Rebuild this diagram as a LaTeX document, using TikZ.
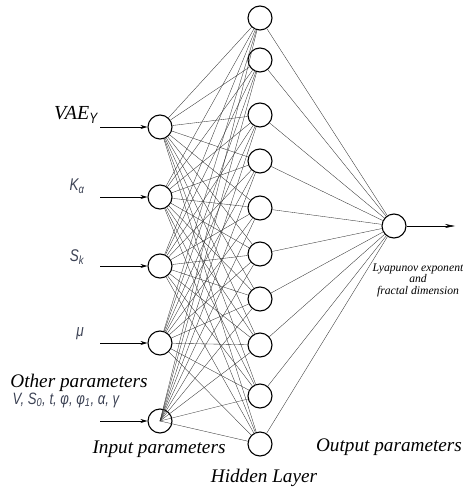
\documentclass[tikz,border=0pt]{standalone}
\usepackage{fontspec}
\setmainfont{Liberation Serif}
\setsansfont{Liberation Sans}
\newfontfamily\isofont[FakeStretch=0.8]{Liberation Sans}
\usetikzlibrary{arrows.meta,calc}
\definecolor{varcol}{RGB}{60,66,84}
\begin{document}
\begin{tikzpicture}[x=1bp,y=-1bp,
  neuron/.style={circle,draw=black,line width=1.1pt,minimum size=24bp,inner sep=0pt},
  link/.style={draw=black!80,line width=0.35pt},
  inarrow/.style={draw=black,line width=0.6pt,-{Stealth[length=7bp,width=4bp]}},
  lab/.style={font=\fontsize{19.3}{21}\selectfont\itshape},
  var/.style={font=\fontsize{17}{19}\selectfont\isofont\itshape,text=varcol}]
\useasboundingbox (0,0) rectangle (463,490);
% nodes
\foreach \n/\y in {1/18,2/60,3/115,4/161,5/208,6/254,7/299,8/345,9/396,10/444}
  \node[neuron] (h\n) at (260,\y) {};
\foreach \n/\y in {1/127,2/197,3/266,4/343,5/421}
  \node[neuron] (i\n) at (160,\y) {};
\node[neuron] (o) at (394,226) {};
% links
\foreach \i in {1,2,3,4}
  \foreach \h in {1,...,10}
    \draw[link] (i\i) -- (h\h);
\foreach \h in {1,...,10}
  \draw[link] (i5.center) -- (h\h);
\foreach \h in {1,...,10}
  \draw[link] (h\h) -- (o);
% input arrows
\foreach \n in {1,...,5}{
  \coordinate (s\n) at ($(i\n.center)+(-60,0)$);
  \draw[inarrow] (s\n) -- (i\n.west);}
\coordinate (oe) at (455,226);
\draw[draw=black,line width=0.6pt,-{Stealth[length=10bp,width=4bp]}] (o.east) -- (oe);
% labels
\node[font=\fontsize{20}{22}\selectfont\itshape] (lv) at (76,115) {VAE\textsubscript{\isofont\fontsize{15}{15}\selectfont Y}};
\node[var] (lk) at (77,186) {K\textsubscript{α}};
\node[var] (ls) at (77,257) {S\textsubscript{k}};
\node[var] (lm) at (80,334) {μ};
\node[lab] (lo) at (79,383) {Other parameters};
\node[font=\fontsize{16.5}{18}\selectfont\isofont\itshape,text=varcol] (lp) at (66,400) {V, S\textsubscript{0}, t, φ, φ\textsubscript{1}, α, γ};
\node[lab] (lin) at (159,449) {Input parameters};
\node[lab] (lh) at (264,478) {Hidden Layer};
\node[lab] (lout) at (389,447) {Output parameters};
\node[font=\fontsize{11.7}{11.5}\selectfont\itshape,align=center] (ly) at (418,280) {Lyapunov exponent\\and\\fractal dimension};
\end{tikzpicture}
\end{document}
